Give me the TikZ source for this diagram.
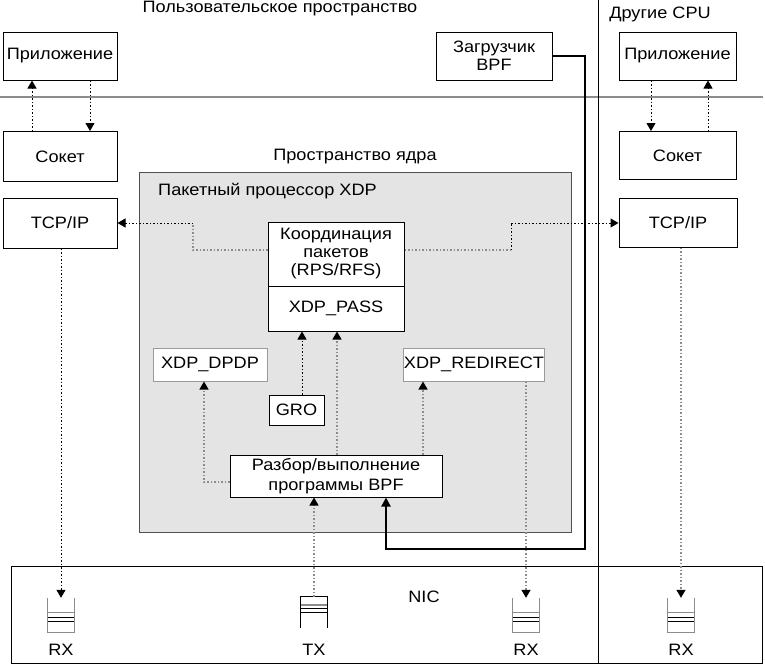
\documentclass[tikz,border=0pt]{standalone}
\usepackage{fontspec}
\setmainfont{Liberation Sans}[FakeStretch=1.1]
\usetikzlibrary{arrows.meta,calc}
\definecolor{lgray}{HTML}{8C8C8C}
\definecolor{regfill}{HTML}{E4E4E4}
\definecolor{regdraw}{HTML}{505050}
\definecolor{gborder}{HTML}{9A9A9A}
\newcommand\RXQ[2]{%
  \node[qbox] (#1) at (#2,615) {};
  \draw[qgray] (#1.north west) -- (#1.south west) -- (#1.south east) -- (#1.north east);
  \draw[qgray] ($(#1.north west)+(0,15)$) -- ($(#1.north east)+(0,15)$);
  \draw[qblack] ($(#1.north west)+(0,20)$) -- ($(#1.north east)+(0,20)$);
  \draw[qblack] ($(#1.north west)+(0,24)$) -- ($(#1.north east)+(0,24)$);
  \node[lbl] (#1l) at (#2,650) {RX};
}
\begin{document}
\begin{tikzpicture}[x=1pt,y=-1pt,
  every node/.style={font=\fontsize{16.5}{19}\selectfont},
  lbl/.style={inner sep=0pt},
  box/.style={draw=black,line width=1pt,fill=white,inner sep=0pt,align=center},
  gbox/.style={draw=gborder,line width=1pt,fill=white,inner sep=0pt,align=center},
  qbox/.style={draw=none,inner sep=0pt,minimum width=26pt,minimum height=34pt},
  qgray/.style={draw=lgray,line width=1pt},
  qblack/.style={draw=black,line width=1pt},
  tip/.style={-{Triangle[length=8pt,width=9pt,color=black]}},
  bdot/.style={draw=black,line width=1pt,dash pattern=on 1.5pt off 2pt},
  gdot/.style={draw=lgray,line width=1.3pt,dash pattern=on 1.5pt off 2pt},
  thickline/.style={draw=black,line width=2.2pt}
]
\useasboundingbox (0,0) rectangle (765,667);

% titles
\node[lbl] (tuser) at (280,9) {Пользовательское пространство};
\node[lbl] (tother) at (660,14) {Другие CPU};
\node[lbl] (tkern) at (355,157) {Пространство ядра};

% separators
\draw[lgray,line width=1.5pt] (0,97) -- (763,97);
\draw[black,line width=0.8pt] (598,0) -- (598,663);

% XDP region
\draw[draw=regdraw,fill=regfill,line width=1pt] (139,172) rectangle (571,532);
\node[lbl,anchor=west] (txdp) at (158,191) {Пакетный процессор XDP};

% NIC box
\draw[black,line width=1pt] (11,566) rectangle (762,663);
\node[lbl] (nic) at (424,597) {NIC};

% boxes
\node[box,minimum width=114pt,minimum height=48pt] (appL) at (60,56) {Приложение};
\node[box,minimum width=114pt,minimum height=50pt] (sockL) at (60,156.5) {Сокет};
\node[box,minimum width=114pt,minimum height=50pt] (tcpL) at (60,223) {TCP/IP};
\node[box,minimum width=116pt,minimum height=48pt,font=\fontsize{16.5}{18}\selectfont] (loader) at (494,56) {Загрузчик\\BPF};
\node[box,minimum width=117pt,minimum height=48pt] (appR) at (677.5,56) {Приложение};
\node[box,minimum width=117pt,minimum height=48pt] (sockR) at (677.5,155.5) {Сокет};
\node[box,minimum width=118pt,minimum height=49pt] (tcpR) at (678,222.5) {TCP/IP};

\node[box,minimum width=136pt,minimum height=64pt,font=\fontsize{16.5}{18}\selectfont] (coord) at (336,254) {Координация\\пакетов\\(RPS/RFS)};
\node[box,minimum width=136pt,minimum height=45pt] (pass) at (336,308.5) {XDP\_PASS};
\node[gbox,minimum width=114pt,minimum height=33pt] (dpdp) at (210,364.5) {XDP\_DPDP};
\node[gbox,minimum width=140pt,minimum height=33pt] (redir) at (474,364.5) {XDP\_REDIRECT};
\node[box,minimum width=55pt,minimum height=30pt] (gro) at (296.5,410) {GRO};
\node[box,minimum width=212pt,minimum height=42pt,font=\fontsize{16.5}{19.5}\selectfont] (parse) at (336,476) {Разбор/выполнение\\программы BPF};

% queues
\RXQ{rxa}{61}
\RXQ{rxb}{526}
\RXQ{rxc}{681}
\node[qbox,minimum height=31pt] (tx) at (314,612.5) {};
\draw[qblack] (tx.south west) -- (tx.north west) -- (tx.north east) -- (tx.south east);
\draw[lgray,line width=2pt] ($(tx.north west)+(0,8)$) -- ($(tx.north east)+(0,8)$);
\draw[qblack] ($(tx.north west)+(0,12)$) -- ($(tx.north east)+(0,12)$);
\draw[qblack] ($(tx.north west)+(0,16)$) -- ($(tx.north east)+(0,16)$);
\node[lbl] (txl) at (314,650) {TX};

% app <-> socket
\draw[bdot,tip] ([xshift=-28pt]sockL.north) -- ([xshift=-28pt]appL.south);
\draw[bdot,tip] ([xshift=30pt]appL.south) -- ([xshift=30pt]sockL.north);
\draw[bdot,tip] ([xshift=-26.5pt]appR.south) -- ([xshift=-26.5pt]sockR.north);
\draw[bdot,tip] ([xshift=30.5pt]sockR.north) -- ([xshift=30.5pt]appR.south);

% coord -> TCP/IP
\coordinate (kl1) at (193,250);
\coordinate (kl2) at (193,223);
\draw[gdot] (coord.west |- kl1) -- (kl1) -- (kl2);
\draw[bdot,tip] (kl2) -- (tcpL.east |- kl2);
\coordinate (kr1) at (511,250);
\coordinate (kr2) at (511,223);
\draw[gdot] (coord.east |- kr1) -- (kr1);
\draw[bdot] (kr1) -- (kr2);
\draw[bdot,tip] (kr2) -- (tcpR.west |- kr2);

% TCP/IP -> RX
\draw[bdot,tip] (tcpL.south -| rxa.north) -- (rxa.north);
\draw[gdot,tip] (tcpR.south -| rxc.north) -- (rxc.north);
\draw[gdot,tip] (redir.south -| rxb.north) -- (rxb.north);

% TX -> parse
\draw[gdot,tip] (tx.north) -- (tx.north |- parse.south);

% inside XDP
\draw[bdot,tip] ([xshift=5.5pt]gro.north) -- ([xshift=5.5pt]gro.north |- pass.south);
\draw[gdot,tip] ([xshift=1pt]parse.north) -- ([xshift=1pt]pass.south);
\draw[gdot,tip] ([xshift=87pt]parse.north) -- ([xshift=87pt]parse.north |- redir.south);
\draw[gdot,tip] ([yshift=-6pt]parse.west) -| ([xshift=-6pt]dpdp.south);

% loader
\coordinate (ld1) at (585,549);
\draw[thickline,-{Triangle[length=9pt,width=9pt]}] (loader.east) -| (ld1) -| ([xshift=50pt]parse.south);
\end{tikzpicture}
\end{document}
